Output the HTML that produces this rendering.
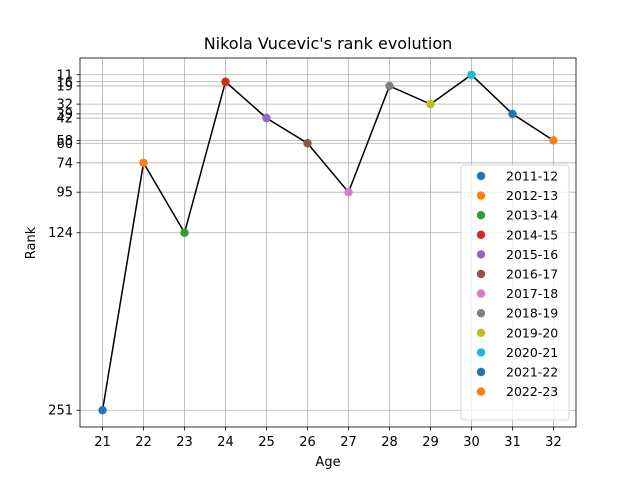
<!DOCTYPE html>
<html><head><meta charset="utf-8"><style>
body{margin:0;background:#fff;font-family:"Liberation Sans","DejaVu Sans",sans-serif}
svg text{font-family:"DejaVu Sans","Liberation Sans",sans-serif;fill:#000}
</style></head><body>
<svg id="chart" width="640" height="480" viewBox="0 0 640 480" xmlns="http://www.w3.org/2000/svg">
<rect width="640" height="480" fill="#fff"/>
<text x="328" y="49" font-size="16" text-anchor="middle">Nikola Vucevic's rank evolution</text>
<g id="grid"></g><g id="axes"></g><g id="marks"></g><g id="legend"></g>
<text x="328" y="466" font-size="13" text-anchor="middle">Age</text>
<text x="35" y="243" font-size="13" text-anchor="middle" transform="rotate(-90 35 243)">Rank</text>
</svg>
<script>
const ages=[21,22,23,24,25,26,27,28,29,30,31,32];
const ranks=[251,74,124,16,42,60,95,19,32,11,39,58];
const seasons=["2011-12","2012-13","2013-14","2014-15","2015-16","2016-17","2017-18","2018-19","2019-20","2020-21","2021-22","2022-23"];
const colors=["#1f77b4","#ff7f0e","#2ca02c","#d62728","#9467bd","#8c564b","#e377c2","#7f7f7f","#bcbd22","#17becf"];
const NS="http://www.w3.org/2000/svg";
const L=80,R=576,T=58,B=427;
const xmin=Math.min(...ages),xmax=Math.max(...ages),xm=(xmax-xmin)*0.05;
const ymin=Math.min(...ranks),ymax=Math.max(...ranks),ym=(ymax-ymin)*0.05;
const xs=v=>L+(v-(xmin-xm))/((xmax+xm)-(xmin-xm))*(R-L);
const ys=v=>T+(v-(ymin-ym))/((ymax+ym)-(ymin-ym))*(B-T);
function mk(tag,attrs,parent){const e=document.createElementNS(NS,tag);for(const k in attrs)e.setAttribute(k,attrs[k]);parent.appendChild(e);return e;}
const grid=document.getElementById('grid'),axes=document.getElementById('axes'),marks=document.getElementById('marks'),legend=document.getElementById('legend');
ages.forEach(a=>{const x=xs(a);
 const g=mk('line',{x1:x,x2:x,y1:T,y2:B,stroke:'#b0b0b0','stroke-width':0.8},grid);
 
 mk('line',{x1:x,x2:x,y1:B,y2:B+3.5,stroke:'#000','stroke-width':0.8},axes);
 const t=mk('text',{x:x,y:B+19,'font-size':13,'text-anchor':'middle'},axes);t.textContent=a;
 });
ranks.forEach(r=>{const y=ys(r);
 const g=mk('line',{x1:L,x2:R,y1:y,y2:y,stroke:'#b0b0b0','stroke-width':0.8},grid);
 
 mk('line',{x1:L-3.5,x2:L,y1:y,y2:y,stroke:'#000','stroke-width':0.8},axes);
 const t=mk('text',{x:L-7,y:y+4.5,'font-size':13,'text-anchor':'end'},axes);t.textContent=r;
 });
const fr=mk('rect',{x:L,y:T,width:R-L,height:B-T,fill:'none',stroke:'#000','stroke-width':0.8},axes);

const pl=mk('polyline',{points:ages.map((a,i)=>xs(a)+','+ys(ranks[i])).join(' '),fill:'none',stroke:'#000','stroke-width':1.5},marks);

ages.forEach((a,i)=>{const c=mk('circle',{cx:xs(a),cy:ys(ranks[i]),r:4.2,fill:colors[i%10]},marks);
 });
const lb=mk('rect',{x:461,y:165,width:108,height:255,rx:3,fill:'#fff','fill-opacity':0.8,stroke:'#ccc','stroke-width':0.8},legend);

seasons.forEach((s,i)=>{const y=176+i*19.6;
 const c=mk('circle',{cx:481,cy:y,r:4.2,fill:colors[i%10]},legend);
 
 const t=mk('text',{x:506,y:y+4.5,'font-size':12.5},legend);t.textContent=s;
 });
</script>
</body></html>
